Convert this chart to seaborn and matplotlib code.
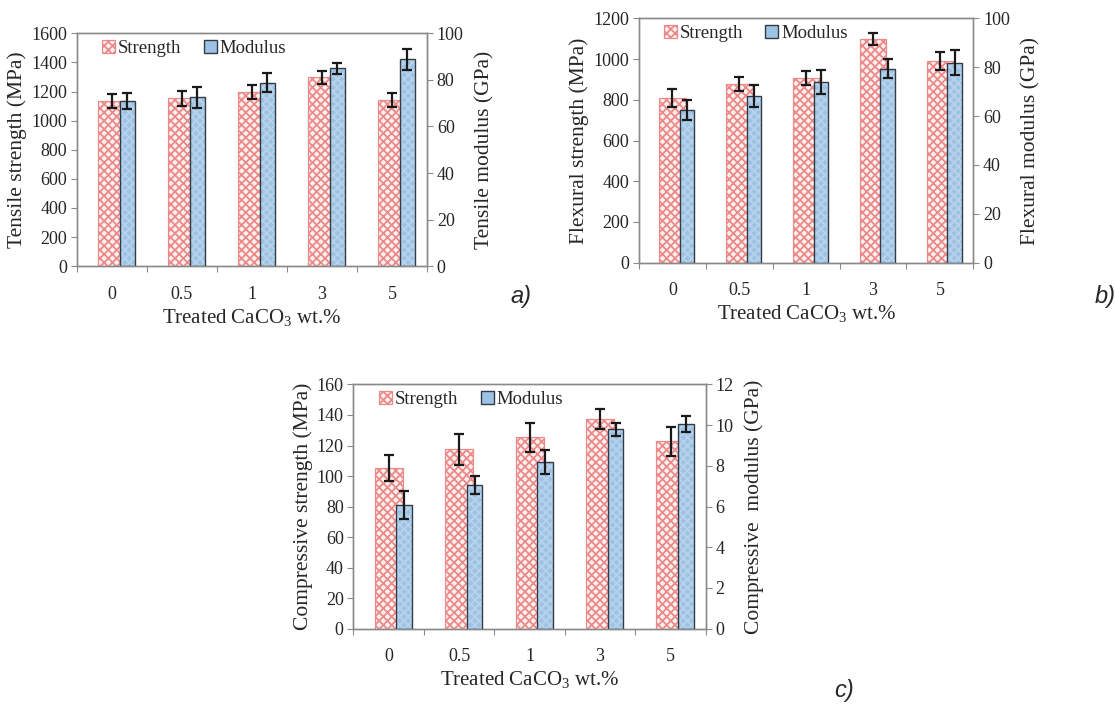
import numpy as np
import pandas as pd
import matplotlib
matplotlib.use("Agg")
import matplotlib.pyplot as plt
import seaborn as sns
from matplotlib.patches import Patch
from matplotlib.colors import to_rgba

# ---------------- data ----------------
categories = ["0", "0.5", "1", "3", "5"]

tensile_strength = [1134, 1152, 1196, 1297, 1141]
tensile_strength_err = [47, 50, 50, 45, 48]
tensile_modulus = [70.9, 72.5, 78.8, 84.9, 88.8]
tensile_modulus_err = [3.5, 4.5, 4.0, 2.5, 4.5]

flexural_strength = [809, 879, 907, 1097, 990]
flexural_strength_err = [45, 35, 35, 30, 45]
flexural_modulus = [62.5, 68.2, 73.9, 79.4, 81.9]
flexural_modulus_err = [4.0, 4.5, 5.0, 4.0, 5.0]

compressive_strength = [105.4, 117.4, 125.5, 137.5, 122.7]
compressive_strength_err = [8.5, 10.0, 9.5, 6.5, 9.5]
compressive_modulus = [6.07, 7.07, 8.19, 9.79, 10.07]
compressive_modulus_err = [0.7, 0.45, 0.6, 0.3, 0.4]

legend_labels = ["Strength", "Modulus"]
xlabel = "Treated CaCO$_3$ wt.%"

# ---------------- style ----------------
sns.set_theme(style="white")
plt.rcParams["font.family"] = ["Liberation Serif", "DejaVu Serif"]
plt.rcParams["mathtext.fontset"] = "custom"
plt.rcParams["mathtext.rm"] = "Liberation Serif"
plt.rcParams["mathtext.it"] = "Liberation Serif:italic"
plt.rcParams["hatch.linewidth"] = 1.3

RED_EDGE = "#ec8a8a"
RED_FACE = "#fdf0f0"
BLUE_FACE = "#9cc2e4"
BLUE_HATCH = "#b7d3ec"
BLUE_EDGE = "#333a44"
SPINE = "#8a8a8a"

fig = plt.figure(figsize=(11.15, 7.08), dpi=100)


def style_strength(p):
    p.set_facecolor(RED_FACE)
    p.set_edgecolor(RED_EDGE)
    p.set_hatch("xxxx")
    p.set_linewidth(0.9)


def style_modulus(p):
    p.set_facecolor(BLUE_FACE)
    p.set_edgecolor(BLUE_EDGE)
    p.set_hatch("xxxx")
    p._hatch_color = to_rgba(BLUE_HATCH)
    p.set_linewidth(1.0)


def panel(rect, strength, s_err, modulus, m_err, s_lim, s_step, m_lim, m_step,
          ylabel_l, ylabel_r, tag, tag_xy):
    ax = fig.add_axes(rect)
    pos = np.arange(len(categories))
    df = pd.DataFrame({"pos": pos, "strength": strength, "modulus": modulus,
                       "pos_m": pos + 0.22})
    sns.barplot(data=df, x="pos", y="strength", native_scale=True, width=0.4,
                errorbar=None, ax=ax, color=RED_FACE)
    for p in ax.patches:
        style_strength(p)
    xs = [p.get_x() + p.get_width() / 2 for p in ax.patches]
    ax.errorbar(xs, strength, yerr=s_err, fmt="none", ecolor="#1a1a1a",
                elinewidth=1.6, capsize=3.5, capthick=1.6, zorder=5)

    ax2 = ax.twinx()
    sns.barplot(data=df, x="pos_m", y="modulus", native_scale=True, width=0.22,
                errorbar=None, ax=ax2, color=BLUE_FACE)
    for p in ax2.patches:
        style_modulus(p)
    xm = [p.get_x() + p.get_width() / 2 for p in ax2.patches]
    ax2.errorbar(xm, modulus, yerr=m_err, fmt="none", ecolor="#1a1a1a",
                 elinewidth=1.6, capsize=3.5, capthick=1.6, zorder=5)

    ax.set_xlim(-0.5, len(categories) - 0.5)
    ax.set_ylim(*s_lim)
    ax2.set_ylim(*m_lim)
    ax.set_yticks(np.arange(s_lim[0], s_lim[1] + s_step / 2, s_step))
    ax2.set_yticks(np.arange(m_lim[0], m_lim[1] + m_step / 2, m_step))
    ax.set_xticks(pos)
    ax.set_xticklabels(categories)
    ax.set_xticks(np.arange(-0.5, len(categories)), minor=True)
    ax.tick_params(axis="x", which="major", length=0, pad=14, labelsize=13)
    ax.tick_params(axis="x", which="minor", length=4, color=SPINE, width=0.8,
                   direction="out", bottom=True)
    ax.tick_params(axis="y", length=4, color=SPINE, width=0.8, direction="out",
                   left=True, labelsize=13, pad=3)
    ax2.tick_params(axis="y", length=4, color=SPINE, width=0.8, direction="out",
                    right=True, labelsize=13, pad=3)
    for a in (ax, ax2):
        for s in a.spines.values():
            s.set_color(SPINE)
            s.set_linewidth(1.0)
    ax.set_xlabel(xlabel, fontsize=15, labelpad=3)
    ax.set_ylabel(ylabel_l, fontsize=15.5, labelpad=3)
    ax2.set_ylabel(ylabel_r, fontsize=15.5, labelpad=8)

    handles = [Patch(facecolor=RED_FACE, edgecolor=RED_EDGE, hatch="xxxx", lw=0.9),
               Patch(facecolor=BLUE_FACE, edgecolor=BLUE_EDGE, lw=1.0)]
    ax2.legend(handles, legend_labels, loc="upper left", ncol=2, frameon=False,
               fontsize=13.5, handlelength=0.7, handleheight=0.7,
               handletextpad=0.15, columnspacing=1.2,
               bbox_to_anchor=(0.04, 1.02), borderaxespad=0.2)
    fig.text(tag_xy[0], tag_xy[1], tag, fontsize=17, style="italic",
             family=["Liberation Sans", "DejaVu Sans"], ha="left", va="center")
    return ax, ax2


panel([0.069, 0.624, 0.314, 0.329], tensile_strength, tensile_strength_err,
      tensile_modulus, tensile_modulus_err, (0, 1600), 200, (0, 100), 20,
      "Tensile strength (MPa)", "Tensile modulus (GPa)", "a)",
      (0.458, 1 - 297 / 708))
panel([0.573, 0.629, 0.300, 0.345], flexural_strength, flexural_strength_err,
      flexural_modulus, flexural_modulus_err, (0, 1200), 200, (0, 100), 20,
      "Flexural strength (MPa)", "Flexural modulus (GPa)", "b)",
      (0.982, 1 - 297 / 708))
panel([0.317, 0.112, 0.316, 0.345], compressive_strength, compressive_strength_err,
      compressive_modulus, compressive_modulus_err, (0, 160), 20, (0, 12), 2,
      "Compressive strength (MPa)", "Compressive  modulus (GPa)", "c)",
      (0.748, 1 - 690 / 708))

fig.savefig("out.png", dpi=100)
